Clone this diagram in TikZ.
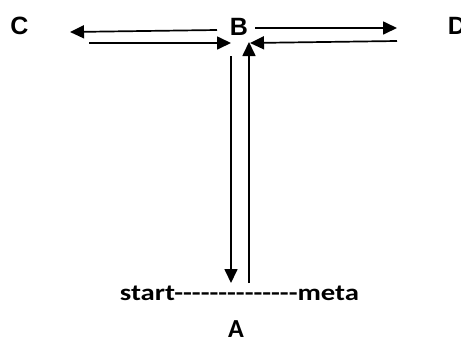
\documentclass[tikz,border=0pt]{standalone}
\usepackage{fontspec}
\setmainfont{Liberation Sans}
\newfontfamily\calfont{Carlito}
\usetikzlibrary{arrows.meta}
\begin{document}
\begin{tikzpicture}[x=1pt,y=-1pt,
  lbl/.style={inner sep=0pt,anchor=base,font=\fontsize{25}{30}\selectfont\bfseries},
  cal/.style={inner sep=0pt,anchor=base,font=\calfont\fontsize{26}{30}\selectfont\bfseries},
  conn/.style={line width=1.7pt,-{Triangle[length=14pt,width=13pt]}}]
\useasboundingbox (0,0) rectangle (461,341);
\fill[white] (0,0) rectangle (461,341);
% labels
\node[lbl] (C) at (19.5,34) {C};
\node[lbl] (B) at (239,35) {B};
\node[lbl] (D) at (457,34) {D};
\node[cal] (A) at (236,337.5) {A};
\node[inner sep=0pt,anchor=base,font=\calfont\fontsize{23}{28}\selectfont\bfseries,xscale=1.25,transform shape] (line) at (239.5,300) {start--------------meta};
% connector end points
\coordinate (bc1) at (217,30);   \coordinate (bc2) at (70,32);
\coordinate (cb1) at (89,43);    \coordinate (cb2) at (231,43);
\coordinate (bd1) at (255,28);   \coordinate (bd2) at (397,28);
\coordinate (db1) at (397,41);   \coordinate (db2) at (250,43);
\coordinate (ba1) at (231,56);   \coordinate (ba2) at (231,283);
\coordinate (ab1) at (249,283);  \coordinate (ab2) at (249,42);
% connectors
\draw[conn] (bc1) -- (bc2);
\draw[conn] (cb1) -- (cb2);
\draw[conn] (bd1) -- (bd2);
\draw[conn] (db1) -- (db2);
\draw[conn] (ba1) -- (ba2);
\draw[conn] (ab1) -- (ab2);
\end{tikzpicture}
\end{document}
